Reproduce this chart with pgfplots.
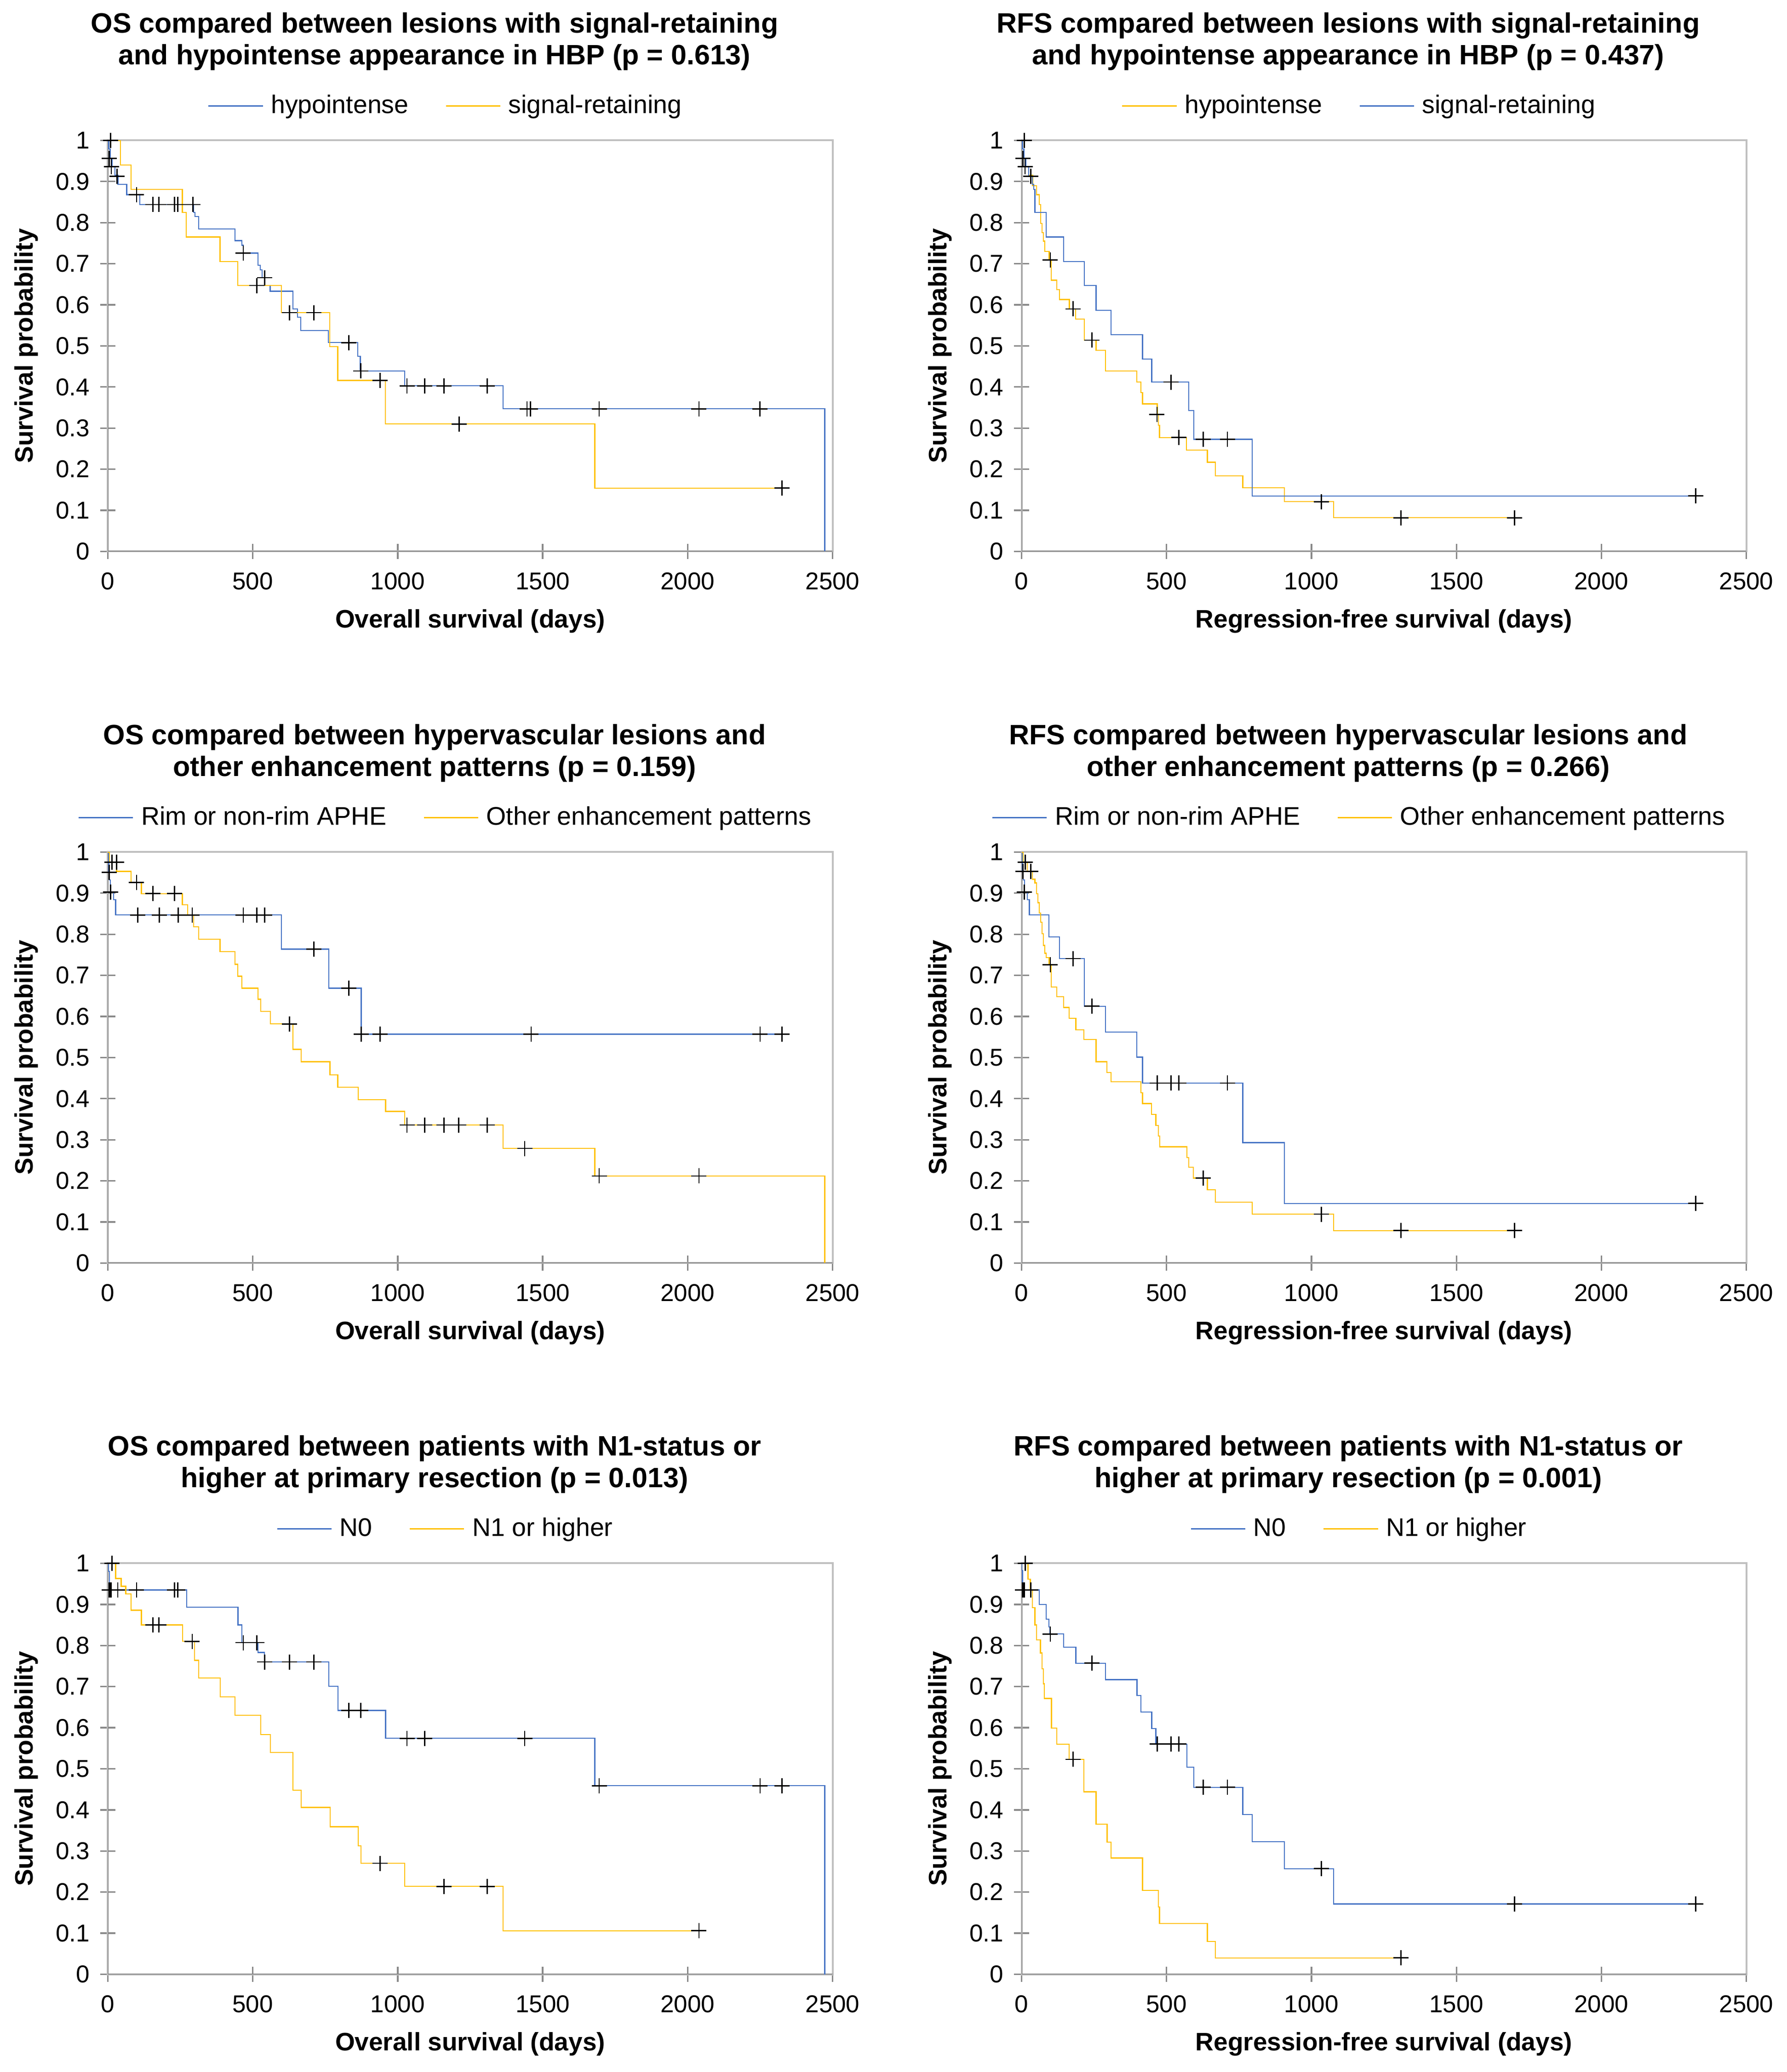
\documentclass[border=0pt]{standalone}
\usepackage{fontspec}
\setmainfont{Liberation Sans}
\usepackage{pgfplots}
\pgfplotsset{compat=1.18}

\definecolor{kmblue}{HTML}{4472C4}
\definecolor{kmgold}{HTML}{FFC000}
\definecolor{axgray}{HTML}{898989}
\definecolor{boxgray}{HTML}{C0C0C0}

% dark left and bottom axis lines over the light plot-area border
\newcommand{\kmaxes}{\draw[axgray, line width=0.65pt] (rel axis cs:0,1) -- (rel axis cs:0,0) -- (rel axis cs:1,0);}

\pgfplotsset{
  km/.style={
    scale only axis, width=315.2pt, height=178.8pt,
    anchor=south west,
    xmin=0, xmax=2500, ymin=0, ymax=1,
    xtick={0,500,1000,1500,2000,2500},
    ytick={0,0.1,0.2,0.3,0.4,0.5,0.6,0.7,0.8,0.9,1},
    scaled ticks=false,
    /pgf/number format/1000 sep={},
    /pgf/number format/assume math mode=true,
    xtick pos=bottom, ytick pos=left,
    tick align=center, major tick length=6.7pt,
    tick style={axgray, line width=0.65pt},
    axis line style={boxgray, line width=0.8pt},
    ticklabel style={font=\fontsize{10.6}{12}\selectfont},
    xticklabel style={yshift=-2.3pt},
    yticklabel style={xshift=-1pt},
    label style={font=\bfseries\fontsize{11}{13}\selectfont},
    ylabel={Survival probability},
    ylabel style={at={(axis description cs:-0.1127,0.5)}, anchor=center},
    xlabel style={at={(axis description cs:0.5,-0.170)}, anchor=center},
    title style={at={(axis description cs:0.4508,1)}, anchor=south, yshift=24.2pt,
      align=center, inner sep=0pt, font=\bfseries\fontsize{12.2}{13.8}\selectfont},
    legend style={at={(axis description cs:0.4680,1.0839)}, anchor=center,
      draw=none, fill=none, legend columns=-1,
      font=\fontsize{11.1}{13}\selectfont,
      /tikz/every even column/.append style={column sep=14pt}},
    legend image code/.code={\draw[#1] (0pt,0pt) -- (23.7pt,0pt); \path (25pt,0pt);},
  },
  curve/.style={const plot, line width=0.45pt, #1},
  cens/.style={only marks, mark=+, mark size=3.3pt, black,
    mark options={line width=0.55pt}, forget plot},
}

\begin{document}
\begin{tikzpicture}
\path[use as bounding box] (0,0) rectangle (777pt,901.4pt);

% ---------- row 1, left: OS, HBP ----------
\begin{axis}[km, at={(46.9pt,661.5pt)},
  title={OS compared between lesions with signal-retaining\\and hypointense appearance in HBP (p = 0.613)},
  xlabel={Overall survival (days)}]
\kmaxes
\addplot[curve=kmblue] coordinates {(0,1) (3,0.979) (8,0.957) (15,0.936) (25,0.915) (35,0.893) (65,0.868) (110,0.844) (296,0.825) (301,0.815) (313,0.785) (439,0.756) (462,0.745) (467,0.726) (518,0.696) (526,0.685) (532,0.666) (541,0.647) (560,0.633) (639,0.590) (654,0.570) (666,0.537) (761,0.508) (862,0.475) (871,0.439) (1024,0.403) (1363,0.347) (2473,0)};
\addlegendentry{hypointense}
\addplot[curve=kmgold] coordinates {(0,1) (44,0.940) (80,0.881) (257,0.825) (270,0.765) (387,0.705) (448,0.647) (599,0.581) (765,0.498) (793,0.416) (957,0.310) (1680,0.154) (2330,0.154)};
\addlegendentry{signal-retaining}
\addplot[cens] coordinates {(10,1) (5,0.956) (12,0.936) (32,0.913) (99,0.868) (155,0.844) (176,0.844) (230,0.844) (241,0.844) (293,0.844) (467,0.726) (514,0.647) (541,0.666) (626,0.581) (711,0.581) (831,0.508) (873,0.439) (939,0.416) (1032,0.403) (1093,0.403) (1159,0.403) (1309,0.403) (1212,0.310) (1446,0.347) (1458,0.347) (1695,0.347) (2039,0.347) (2249,0.347) (2326,0.154)};
\end{axis}

% ---------- row 1, right: RFS, HBP ----------
\begin{axis}[km, at={(444.3pt,661.5pt)},
  title={RFS compared between lesions with signal-retaining\\and hypointense appearance in HBP (p = 0.437)},
  xlabel={Regression-free survival (days)}]
\kmaxes
\addplot[curve=kmgold] coordinates {(0,1) (3,0.979) (8,0.957) (15,0.936) (25,0.915) (38,0.890) (51,0.868) (61,0.844) (66,0.798) (70,0.776) (75,0.755) (80,0.730) (95,0.709) (102,0.660) (121,0.637) (131,0.613) (165,0.590) (186,0.565) (216,0.514) (257,0.489) (290,0.439) (397,0.412) (412,0.386) (417,0.359) (468,0.333) (472,0.307) (476,0.277) (569,0.247) (641,0.217) (668,0.184) (763,0.155) (907,0.121) (1076,0.082) (1700,0.082)};
\addlegendentry{hypointense}
\addplot[curve=kmblue] coordinates {(0,1) (3,0.979) (8,0.957) (15,0.936) (25,0.913) (37,0.893) (42,0.881) (46,0.825) (85,0.765) (145,0.705) (216,0.647) (257,0.587) (309,0.527) (417,0.468) (449,0.412) (576,0.343) (594,0.273) (795,0.135) (2326,0.135)};
\addlegendentry{signal-retaining}
\addplot[cens] coordinates {(10,1) (5,0.956) (12,0.936) (32,0.913) (99,0.709) (178,0.590) (243,0.514) (515,0.412) (467,0.333) (542,0.277) (627,0.273) (710,0.273) (1034,0.121) (1309,0.082) (1700,0.082) (2326,0.135)};
\end{axis}

% ---------- row 2, left: OS, enhancement ----------
\begin{axis}[km, at={(46.9pt,351.9pt)},
  title={OS compared between hypervascular lesions and\\other enhancement patterns (p = 0.159)},
  xlabel={Overall survival (days)}]
\kmaxes
\addplot[curve=kmblue] coordinates {(0,1) (3,0.951) (6,0.932) (9,0.903) (20,0.884) (27,0.847) (599,0.764) (762,0.669) (874,0.557) (2330,0.557)};
\addlegendentry{Rim or non-rim APHE}
\addplot[curve=kmgold] coordinates {(0,1) (5,0.975) (30,0.953) (80,0.926) (116,0.899) (257,0.872) (275,0.847) (296,0.818) (313,0.788) (387,0.758) (439,0.727) (448,0.698) (462,0.669) (518,0.642) (527,0.612) (561,0.582) (639,0.520) (667,0.490) (766,0.458) (793,0.428) (864,0.398) (958,0.369) (1024,0.336) (1363,0.279) (1680,0.212) (2473,0)};
\addlegendentry{Other enhancement patterns}
\addplot[cens] coordinates {(14,0.975) (30,0.975) (5,0.951) (9,0.903) (99,0.926) (155,0.899) (230,0.899) (103,0.847) (178,0.847) (243,0.847) (291,0.847) (467,0.847) (514,0.847) (541,0.847) (626,0.582) (711,0.764) (831,0.669) (874,0.557) (939,0.557) (1460,0.557) (2250,0.557) (2326,0.557) (1032,0.336) (1093,0.336) (1159,0.336) (1210,0.336) (1309,0.336) (1438,0.279) (1695,0.212) (2039,0.212)};
\end{axis}

% ---------- row 2, right: RFS, enhancement ----------
\begin{axis}[km, at={(444.3pt,351.9pt)},
  title={RFS compared between hypervascular lesions and\\other enhancement patterns (p = 0.266)},
  xlabel={Regression-free survival (days)}]
\kmaxes
\addplot[curve=kmblue] coordinates {(0,1) (3,0.953) (6,0.932) (10,0.903) (20,0.884) (27,0.847) (94,0.794) (131,0.741) (216,0.625) (290,0.562) (397,0.501) (417,0.438) (763,0.293) (907,0.145) (2326,0.145)};
\addlegendentry{Rim or non-rim APHE}
\addplot[curve=kmgold] coordinates {(0,1) (5,0.975) (20,0.953) (37,0.934) (46,0.925) (51,0.899) (56,0.877) (61,0.852) (66,0.829) (70,0.801) (75,0.773) (80,0.754) (85,0.743) (95,0.726) (102,0.672) (121,0.648) (145,0.622) (164,0.596) (187,0.568) (215,0.544) (257,0.490) (294,0.464) (309,0.441) (412,0.414) (417,0.388) (448,0.362) (463,0.335) (472,0.309) (477,0.283) (570,0.257) (576,0.233) (593,0.207) (641,0.178) (668,0.148) (795,0.119) (1076,0.079) (1700,0.079)};
\addlegendentry{Other enhancement patterns}
\addplot[cens] coordinates {(13,0.975) (5,0.953) (32,0.953) (10,0.903) (99,0.726) (178,0.741) (243,0.625) (468,0.438) (515,0.438) (542,0.438) (710,0.438) (627,0.207) (1034,0.119) (1309,0.079) (1700,0.079) (2326,0.145)};
\end{axis}

% ---------- row 3, left: OS, N-status ----------
\begin{axis}[km, at={(46.9pt,42.5pt)},
  title={OS compared between patients with N1-status or\\higher at primary resection (p = 0.013)},
  xlabel={Overall survival (days)}]
\kmaxes
\addplot[curve=kmblue] coordinates {(0,1) (2,0.980) (5,0.935) (272,0.893) (449,0.850) (462,0.807) (518,0.783) (540,0.760) (762,0.701) (794,0.642) (958,0.574) (1680,0.459) (2473,0)};
\addlegendentry{N0}
\addplot[curve=kmgold] coordinates {(0,1) (27,0.963) (46,0.944) (62,0.926) (80,0.886) (116,0.850) (258,0.810) (299,0.764) (313,0.721) (388,0.675) (439,0.630) (527,0.583) (561,0.540) (639,0.448) (667,0.406) (767,0.359) (864,0.313) (873,0.270) (1024,0.214) (1363,0.106) (2039,0.106)};
\addlegendentry{N1 or higher}
\addplot[cens] coordinates {(14,1) (5,0.935) (8,0.935) (12,0.935) (34,0.935) (99,0.935) (230,0.935) (241,0.935) (155,0.850) (176,0.850) (291,0.810) (467,0.807) (514,0.807) (541,0.760) (626,0.760) (711,0.760) (831,0.642) (873,0.642) (1032,0.574) (1093,0.574) (1438,0.574) (939,0.270) (1159,0.214) (1309,0.214) (2039,0.106) (1695,0.459) (2250,0.459) (2326,0.459)};
\end{axis}

% ---------- row 3, right: RFS, N-status ----------
\begin{axis}[km, at={(444.3pt,42.5pt)},
  title={RFS compared between patients with N1-status or\\higher at primary resection (p = 0.001)},
  xlabel={Regression-free survival (days)}]
\kmaxes
\addplot[curve=kmblue] coordinates {(0,1) (1,0.983) (3,0.935) (61,0.900) (85,0.864) (94,0.845) (97,0.828) (145,0.796) (187,0.757) (290,0.717) (398,0.678) (412,0.638) (449,0.598) (463,0.560) (570,0.504) (594,0.455) (763,0.389) (795,0.323) (907,0.257) (1076,0.171) (2326,0.171)};
\addlegendentry{N0}
\addplot[curve=kmgold] coordinates {(0,1) (22,0.961) (30,0.935) (37,0.892) (46,0.850) (51,0.814) (65,0.782) (70,0.743) (75,0.707) (79,0.671) (103,0.599) (121,0.560) (164,0.523) (215,0.444) (257,0.365) (295,0.322) (309,0.283) (417,0.204) (472,0.164) (476,0.124) (641,0.080) (668,0.040) (1309,0.040)};
\addlegendentry{N1 or higher}
\addplot[cens] coordinates {(13,1) (3,0.935) (6,0.935) (9,0.935) (32,0.935) (99,0.828) (178,0.523) (243,0.757) (468,0.560) (515,0.560) (542,0.560) (627,0.455) (710,0.455) (1034,0.257) (1309,0.040) (1700,0.171) (2326,0.171)};
\end{axis}
\end{tikzpicture}
\end{document}
